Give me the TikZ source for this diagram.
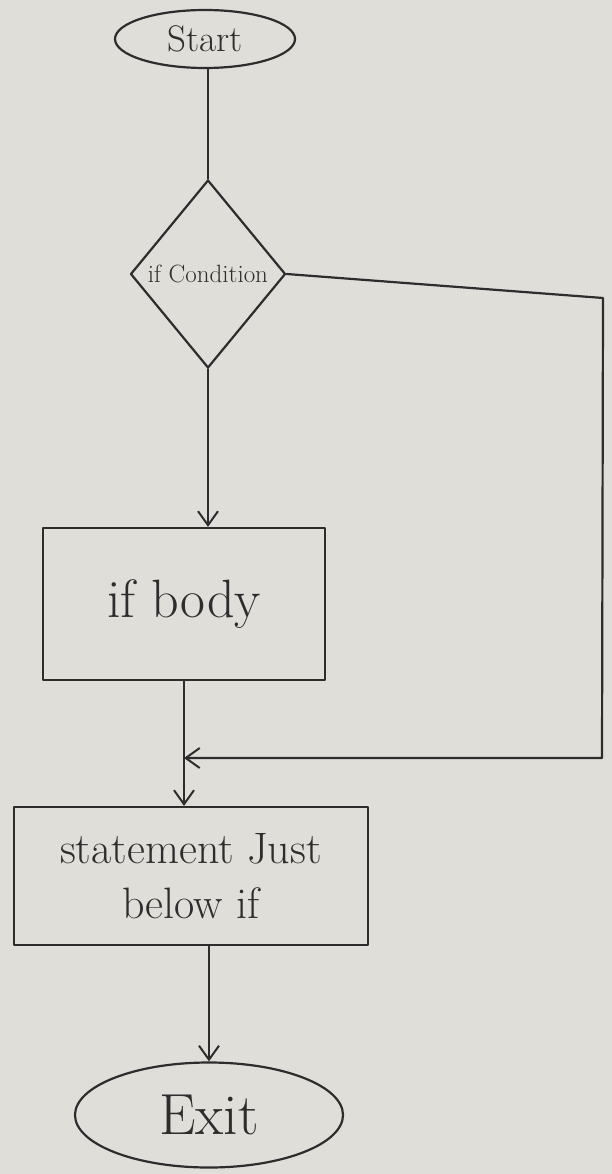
\documentclass[tikz,border=0pt]{standalone}
\usetikzlibrary{shapes.geometric,arrows.meta}
\definecolor{paper}{RGB}{224,222,217}
\definecolor{ink}{RGB}{45,45,45}
\begin{document}
\begin{tikzpicture}[x=1pt,y=-1pt,
  every node/.style={ink},
  line/.style={draw=ink,line width=2.2pt,line cap=round,line join=round},
  arr/.style={line,-{Straight Barb[length=14pt,width=20pt,line width=2pt]}},
  term/.style={line,ellipse,inner sep=0pt},
  decide/.style={line,diamond,inner sep=0pt,shape aspect=0.82},
  proc/.style={line,rectangle,inner sep=0pt,align=center}]
\fill[paper] (0,0) rectangle (612,1174);
\useasboundingbox (0,0) rectangle (612,1174);

\node[term,minimum width=180pt,minimum height=58pt,font=\fontsize{37}{44}\selectfont] (start) at (205,39) {Start};
\node[decide,minimum width=155pt,minimum height=188pt,font=\fontsize{25}{30}\selectfont] (cond) at (208,274) {if Condition};
\node[proc,minimum width=282pt,minimum height=152pt,font=\fontsize{54}{60}\selectfont] (body) at (184,604) {if body};
\node[proc,minimum width=354pt,minimum height=138pt,font=\fontsize{44}{55}\selectfont] (stmt) at (191,876) {statement Just\\below if};
\node[term,minimum width=268pt,minimum height=105pt,font=\fontsize{58}{66}\selectfont] (exit) at (209,1115) {Exit};

\coordinate (tr) at (603,298);
\coordinate (br) at (602,758);

\draw[line] (start.south -| cond.north) -- (cond.north);
\draw[arr] (cond.south) -- (cond.south |- body.north);
\draw[arr] (body.south) -- (body.south |- stmt.north);
\draw[arr] (cond.east) -- (tr) -- (br) -- (br -| body.south);
\draw[arr] (exit.north |- stmt.south) -- (exit.north);
\end{tikzpicture}
\end{document}
